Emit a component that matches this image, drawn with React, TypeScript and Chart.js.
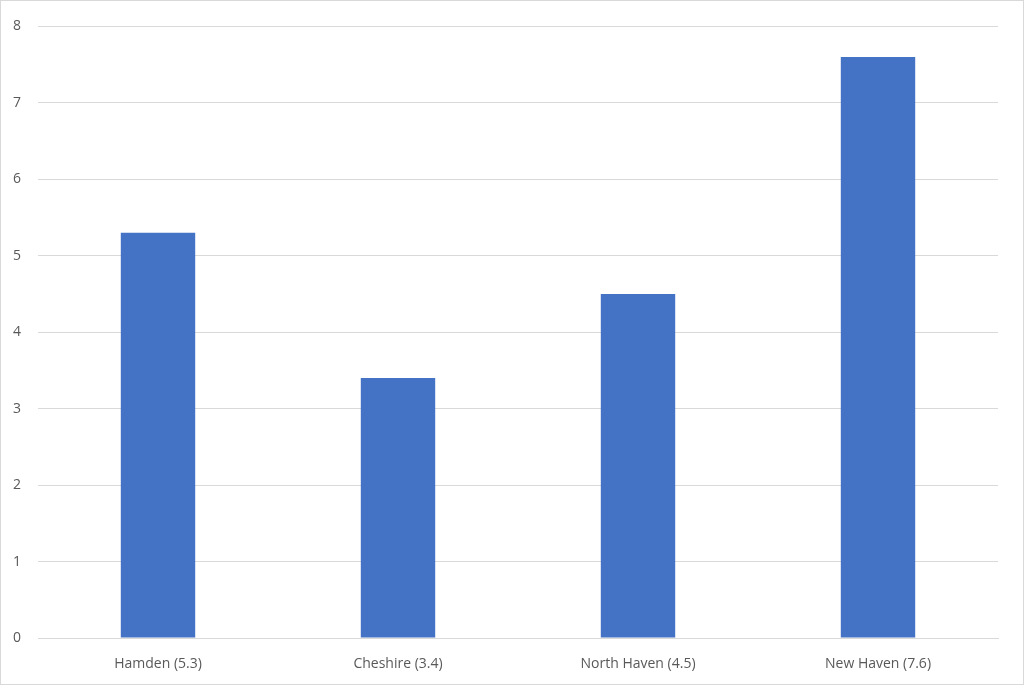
import React, { useEffect, useRef } from "react";
import { Chart, registerables } from "chart.js";

Chart.register(...registerables);

const categories = ["Hamden (5.3)", "Cheshire (3.4)", "North Haven (4.5)", "New Haven (7.6)"];
const values = [5.3, 3.4, 4.5, 7.6];
const yTicks = [0, 1, 2, 3, 4, 5, 6, 7, 8];

export default function App() {
  const ref = useRef<HTMLCanvasElement | null>(null);
  useEffect(() => {
    document.body.style.margin = "0";
    if (!ref.current) return;
    const font = { family: "'Open Sans', 'Liberation Sans', sans-serif", size: 14 };
    const chart = new Chart(ref.current, {
      type: "bar",
      data: {
        labels: categories,
        datasets: [
          {
            data: values,
            backgroundColor: "#4472c4",
            borderWidth: 0,
            barPercentage: 0.31,
            categoryPercentage: 1,
          },
        ],
      },
      options: {
        animation: false,
        responsive: false,
        maintainAspectRatio: false,
        layout: { padding: { top: 25, right: 25, bottom: 0, left: 0 } },
        plugins: { legend: { display: false }, tooltip: { enabled: false } },
        scales: {
          x: {
            grid: { display: false, drawTicks: false },
            border: { display: true, color: "#d9d9d9", width: 1 },
            ticks: {
              color: "#595959",
              font,
              padding: 18,
              maxRotation: 0,
            },
            afterFit: (s: any) => {
              s.height = 46;
            },
          },
          y: {
            min: 0,
            max: 8,
            afterBuildTicks: (s: any) => {
              s.ticks = yTicks.map((v) => ({ value: v }));
            },
            grid: { color: "#d9d9d9", drawTicks: false, lineWidth: 1 },
            border: { display: false },
            ticks: {
              color: "#595959",
              font,
              padding: 17,
            },
            afterFit: (s: any) => {
              s.width = 37;
            },
          },
        },
      },
    });
    return () => chart.destroy();
  }, []);
  return (
    <div
      style={{
        position: "absolute",
        left: 0,
        top: 0,
        width: 1024,
        height: 685,
        border: "1px solid #d9d9d9",
        boxSizing: "border-box",
        background: "#fff",
      }}
    >
      <canvas ref={ref} width={1022} height={683} style={{ display: "block" }} />
    </div>
  );
}
